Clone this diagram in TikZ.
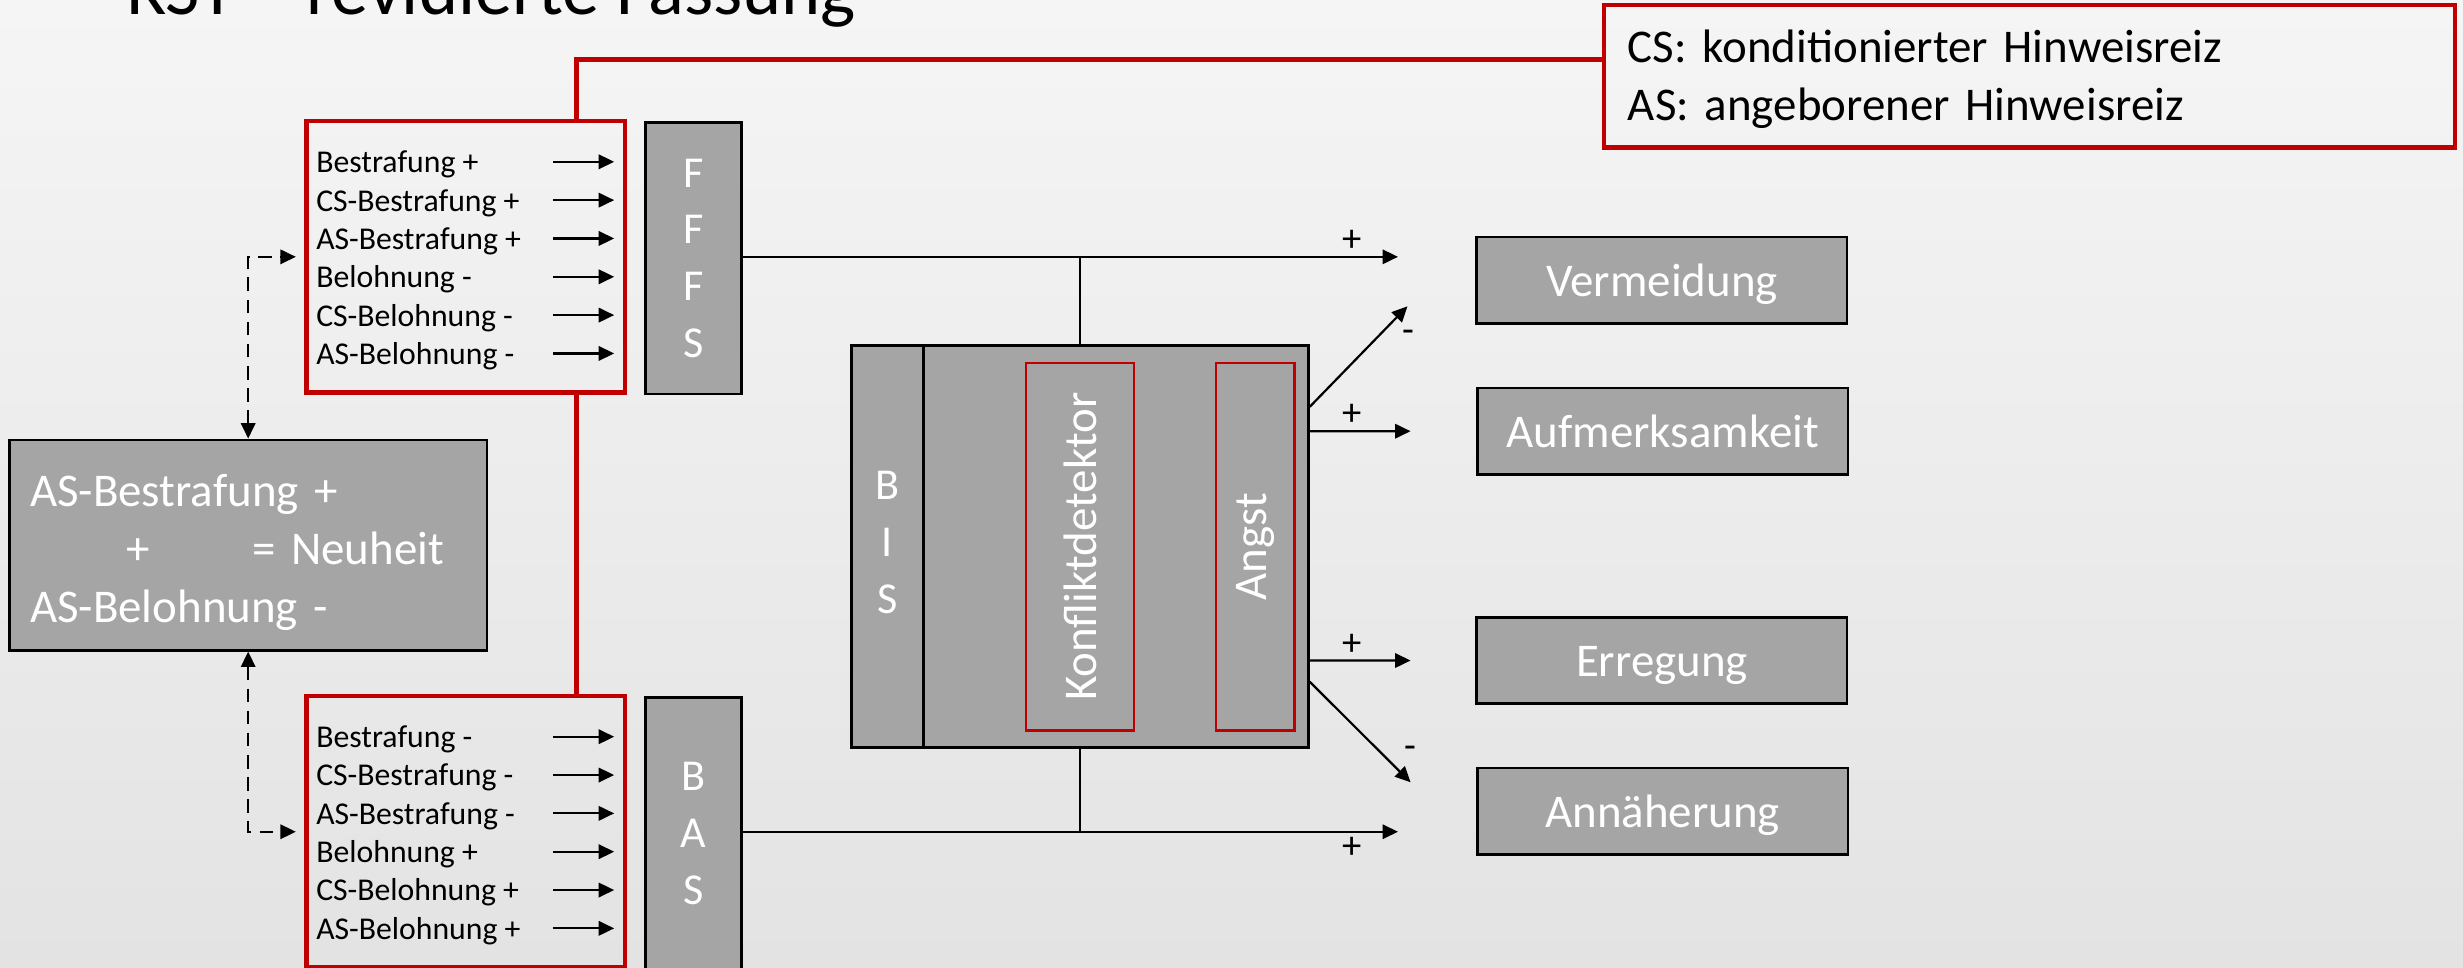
\documentclass[tikz,border=0pt]{standalone}
\usepackage{fontspec}
\setmainfont{Carlito}
\usetikzlibrary{arrows.meta}
\definecolor{rsred}{HTML}{C00000}
\definecolor{boxgray}{HTML}{A5A5A5}
\definecolor{bgtop}{HTML}{F5F5F5}
\definecolor{bgbot}{HTML}{E3E3E3}
\frenchspacing
\begin{document}
\begin{tikzpicture}[x=0.02cm, y=-0.02cm,
graybox/.style={draw=black, line width=0.9pt, fill=boxgray, text=white, inner sep=0pt},
redbox/.style={draw=rsred, line width=1.6pt, inner sep=0pt},
redframe/.style={draw=rsred, line width=0.9pt, inner sep=0pt},
arr/.style={-{Triangle[length=5.6pt,width=5.2pt]}, line width=0.8pt},
dasharr/.style={{Triangle[length=5.6pt,width=5.2pt]}-{Triangle[length=5.6pt,width=5.2pt]}, line width=0.8pt, dash pattern=on 5pt off 3pt},
big/.style={font=\fontsize{17}{21}\selectfont},
outbox/.style={graybox, big, text height=15.4pt, text depth=3.6pt, minimum width=4.72cm, minimum height=1.1cm},
letters/.style={font=\fontsize{16}{20.6}\selectfont, align=center},
item/.style={font=\fontsize{11.5}{14}\selectfont, anchor=west, inner sep=0pt, text height=10.3pt, text depth=2.4pt},
sign/.style={font=\fontsize{14}{16}\selectfont, inner sep=1.5pt}]

\clip (0,0) rectangle (1568,616);
\shade[top color=bgtop, bottom color=bgbot] (0,0) rectangle (1568,616);

% title (cut at the top)
\node[anchor=base west, font=\fontsize{27}{32}\selectfont, inner sep=0pt] (title) at (80,9) {RST – revidierte Fassung};

% legend
\node[redbox, big, minimum width=10.84cm, minimum height=1.82cm, inner xsep=8pt, text width=291pt, text height=14.2pt, align=left] (legend) at (1292,48.5)
    {CS: konditionierter Hinweisreiz\\AS: angeborener Hinweisreiz};

% input boxes
\node[redbox, minimum width=4.06cm, minimum height=3.46cm] (ffin) at (296.5,163.5) {};
\node[redbox, minimum width=4.06cm, minimum height=3.46cm] (bain) at (296.5,529.5) {};
\foreach \t [count=\i] in {Bestrafung +, CS-Bestrafung +, AS-Bestrafung +, Belohnung -, CS-Belohnung -, AS-Belohnung -} {
    \node[item] (fi\i) at (201,{78.6+24.4*\i}) {\t};
    \coordinate (fa\i) at (352,{78.6+24.4*\i});
    \coordinate (fb\i) at (391,{78.6+24.4*\i});
    \draw[arr] (fa\i) -- (fb\i);
}
\foreach \t [count=\i] in {Bestrafung -, CS-Bestrafung -, AS-Bestrafung -, Belohnung +, CS-Belohnung +, AS-Belohnung +} {
    \node[item] (bi\i) at (201,{444.6+24.4*\i}) {\t};
    \coordinate (ba\i) at (352,{444.6+24.4*\i});
    \coordinate (bb\i) at (391,{444.6+24.4*\i});
    \draw[arr] (ba\i) -- (bb\i);
}

% systems
\node[graybox, letters, minimum width=1.22cm, minimum height=3.46cm] (fffs) at (441.5,164.5) {F\\F\\F\\S};
\node[graybox, letters, minimum width=1.22cm, minimum height=3.46cm] (bas) at (441.5,530.5) {B\\A\\S};
\node[graybox, letters, minimum width=0.92cm, minimum height=5.12cm, text depth=3pt] (bisl) at (565,348) {B\\I\\S};
\node[graybox, minimum width=4.9cm, minimum height=5.12cm] (bis) at (710.5,348) {};
\node[redframe, big, text=white, rotate=90, minimum width=4.68cm, minimum height=1.38cm] (kd) at (687.5,348) {Konfliktdetektor};
\node[redframe, big, text=white, rotate=90, minimum width=4.68cm, minimum height=1.0cm] (angst) at (799,348) {Angst};

% novelty
\node[graybox, big, minimum width=6.08cm, minimum height=2.68cm, inner xsep=6.8pt, text width=158pt, text height=16.8pt, align=left] (neu) at (158,347)
    {AS-Bestrafung +\\\hspace*{35pt}+\hspace*{37pt}= Neuheit\\AS-Belohnung -};

% outputs
\node[outbox] (verm) at (1058,178.5) {Vermeidung};
\node[outbox] (aufm) at (1058.5,274.5) {Aufmerksamkeit};
\node[outbox] (erreg) at (1058,420.5) {Erregung};
\node[outbox] (annae) at (1058.5,516.5) {Annäherung};

% red links
\draw[rsred, line width=1.6pt] ([xshift=1.41cm]ffin.north) |- ([yshift=0.21cm]legend.west);
\draw[rsred, line width=1.6pt] ([xshift=1.41cm]ffin.south) -- ([xshift=1.41cm]bain.north);

% novelty feeds both sides
\draw[dasharr, shorten >=3pt] (neu.north) |- (ffin.west);
\draw[dasharr, shorten >=3pt] (neu.south) |- (bain.west);

% FFFS and BAS
\coordinate (fend) at (890,163.5);
\coordinate (bend) at (890,529.5);
\draw[arr] (fffs.east |- fend) -- node[sign, above, pos=0.93] {+} (fend);
\draw[arr] (bas.east |- bend) -- node[sign, below, pos=0.93] {+} (bend);
\draw[line width=0.6pt] (kd.center |- bis.north) -- (kd.center |- fend);
\draw[line width=0.6pt] (kd.center |- bis.south) -- (kd.center |- bend);

% BIS outputs
\coordinate (e1) at (896,195);
\coordinate (e2) at (898,274.5);
\coordinate (e3) at (898,420.5);
\coordinate (e4) at (898,498);
\draw[arr] ([yshift=1.78cm]bis.east) -- node[sign, right=7pt, pos=0.7] {-} (e1);
\draw[arr] ([yshift=1.47cm]bis.east) -- node[sign, above, pos=0.42] {+} (e2);
\draw[arr] ([yshift=-1.45cm]bis.east) -- node[sign, above, pos=0.42] {+} (e3);
\draw[arr] ([yshift=-1.72cm]bis.east) -- node[sign, right=7pt, pos=0.7] {-} (e4);
\end{tikzpicture}
\end{document}
